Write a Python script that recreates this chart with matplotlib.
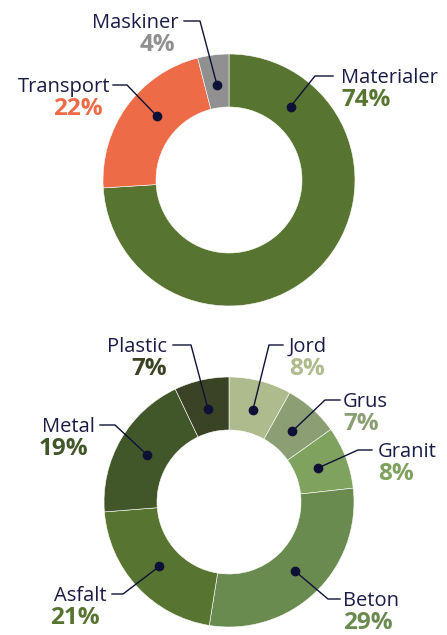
import numpy as np
import matplotlib
matplotlib.use("Agg")
import matplotlib.pyplot as plt

# data
top_labels = ["Materialer", "Transport", "Maskiner"]
top_values = [74, 22, 4]
bottom_labels = ["Jord", "Grus", "Granit", "Beton", "Asfalt", "Metal", "Plastic"]
bottom_values = [8, 7, 8, 29, 21, 19, 7]

# styles
top_colors = ["#587431", "#EE6B47", "#909090"]
bottom_colors = ["#AEBB8C", "#8C9F74", "#7FA25E", "#6A8B4F", "#587431", "#41572A", "#3A4424"]
NAVY = "#1A1C45"
DOT = "#0E1136"
FONT = "Open Sans"

W, H = 447, 635


def Y(y):
    # pixel row (from top) -> data y
    return H - y


# layout per label: side, text x, label baseline (px), elbow x, line end x, pct x, dot position in slice (0..1 clockwise)
top_layout = [
    ("right", 341, 83, 315, 333, 341, 0.15),
    ("left", 110, 92, 127, 113, 103, 0.57),
    ("left", 179, 28, 200, 184, 175, 0.5),
]
bottom_layout = [
    ("right", 289, 352, 269, 283, 289, 0.5),
    ("right", 343, 407, 325, 340, 343, 0.5),
    ("right", 378, 457, 358, 372, 378, 0.5),
    ("right", 343, 606, 328, 340, 343, 0.5),
    ("left", 107, 601, 123, 112, 100, 0.5),
    ("left", 95, 432, 115, 100, 88, 0.5),
    ("left", 167, 352, 191, 173, 167, 0.5),
]

fig = plt.figure(figsize=(W / 100, H / 100), dpi=100)
ax = fig.add_axes([0, 0, 1, 1])


def donut(values, labels, colors, layout, cx, cy, R, r):
    wedges, _ = ax.pie(values, colors=colors, radius=R, center=(cx, Y(cy)),
                       startangle=90, counterclock=False,
                       wedgeprops=dict(width=R - r, edgecolor="white", linewidth=0.4))
    for w, lab, val, col, lay in zip(wedges, labels, values, colors, layout):
        side, tx, base, ex, endx, px, frac = lay
        ang = np.deg2rad(w.theta2 - frac * (w.theta2 - w.theta1))
        rd = 0.76 * R
        dx, dy = cx + rd * np.cos(ang), Y(cy) + rd * np.sin(ang)
        ly = Y(base - 7)
        ax.plot([dx, ex, endx], [dy, ly, ly], color=DOT, lw=1.0, zorder=3)
        ax.plot(dx, dy, "o", color=DOT, ms=6, zorder=4)
        ha = "left" if side == "right" else "right"
        ax.text(tx, Y(base), lab, ha=ha, va="baseline", fontsize=14.5,
                color=NAVY, family=FONT)
        ax.text(px, Y(base + 23), f"{val}%", ha=ha, va="baseline", fontsize=17.5,
                color=col, family=FONT, fontweight="bold")


donut(top_values, top_labels, top_colors, top_layout, 229, 180, 126, 73)
donut(bottom_values, bottom_labels, bottom_colors, bottom_layout, 229, 502, 125, 72)

ax.set_xlim(0, W)
ax.set_ylim(0, H)
ax.set_aspect("equal")
ax.axis("off")
fig.savefig("out.png", dpi=100, facecolor="white")
